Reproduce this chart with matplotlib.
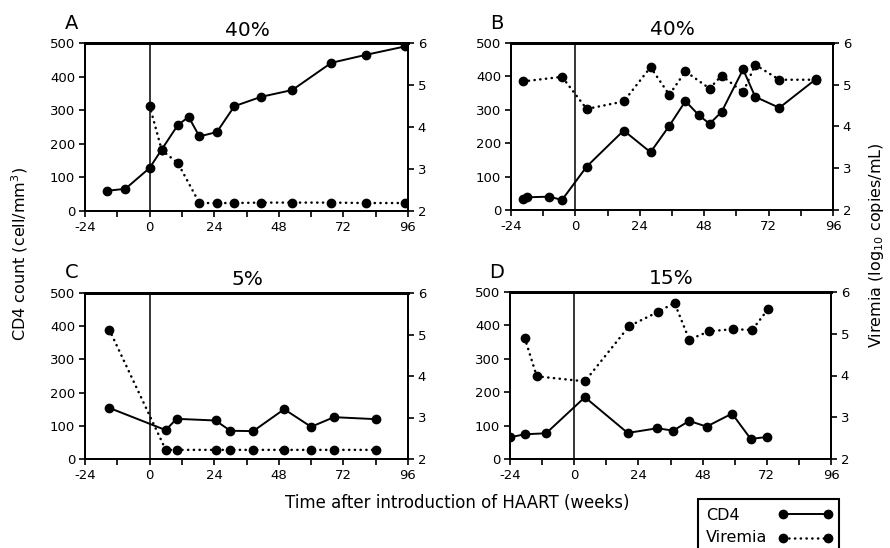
import matplotlib
matplotlib.use("Agg")
import matplotlib.pyplot as plt
from matplotlib.lines import Line2D
from matplotlib.patches import Rectangle

plt.rcParams['font.family'] = ['DejaVu Sans']

# panel A
a_cd4_wk = [-16, -9, 0, 4.5, 10.5, 14.5, 18.5, 25, 31.5, 41.5, 53, 67.5, 80.5, 95]
a_cd4 = [60, 66, 128, 183, 256, 280, 222, 235, 312, 340, 360, 441, 465, 490]
a_vir_wk = [0, 4.5, 10.5, 18.5, 25, 31.5, 41.5, 53, 67.5, 80.5, 95]
a_vir = [4.51, 3.45, 3.14, 2.19, 2.19, 2.19, 2.2, 2.2, 2.2, 2.19, 2.19]

# panel B
b_cd4_wk = [-19.5, -18, -9.7, -5, 4.2, 18, 28, 35, 41, 46, 50, 54.5, 62.5, 67, 76, 89.5]
b_cd4 = [32, 38, 40, 30, 130, 238, 173, 252, 326, 284, 258, 294, 421, 339, 306, 391]
b_vir_wk = [-19.5, -5, 4.2, 18, 28, 35, 41, 50, 54.5, 62.5, 67, 76, 89.5]
b_vir = [5.08, 5.19, 4.42, 4.6, 5.42, 4.76, 5.32, 4.91, 5.22, 4.82, 5.48, 5.12, 5.12]

# panel C
c_cd4_wk = [-15, 6, 10, 24.5, 30, 38.5, 50, 60, 68.5, 84]
c_cd4 = [154, 87, 121, 116, 85, 84, 150, 97, 126, 120]
c_vir_wk = [-15, 6, 10, 24.5, 30, 38.5, 50, 60, 68.5, 84]
c_vir = [5.12, 2.22, 2.22, 2.22, 2.22, 2.22, 2.22, 2.22, 2.22, 2.22]

# panel D
d_cd4_wk = [-24, -18.5, -10.5, 4, 20, 31, 37, 43, 49.5, 59, 66, 72]
d_cd4 = [65, 74, 77, 185, 78, 92, 85, 114, 97, 136, 60, 66]
d_vir_wk = [-18.5, -14, 4, 20.5, 31.5, 37.5, 43, 50.5, 59.5, 66.5, 72.5]
d_vir = [4.9, 3.98, 3.86, 5.18, 5.53, 5.74, 4.86, 5.06, 5.11, 5.09, 5.59]

panels = [
    ("A", "40%", a_cd4_wk, a_cd4, a_vir_wk, a_vir),
    ("B", "40%", b_cd4_wk, b_cd4, b_vir_wk, b_vir),
    ("C", "5%", c_cd4_wk, c_cd4, c_vir_wk, c_vir),
    ("D", "15%", d_cd4_wk, d_cd4, d_vir_wk, d_vir),
]

W, H = 890, 548

def fx(x):
    return x / W

def fy(y):
    return 1 - y / H

# pixel boxes (left, right, top, bottom), letter pos, title baseline
boxes = [(85, 408, 43, 211), (511, 833, 43, 210), (85, 408, 293, 459), (510, 831, 292, 459)]
letters = [(65, 29), (490, 29), (65, 278), (489, 278)]
titles = [(247, 36), (672, 35), (247, 285), (671, 284)]

dot_style = dict(color='k', lw=1.8, linestyle=(0, (0.1, 2.2)), dash_capstyle='round',
                 marker='o', ms=6)
solid_style = dict(color='k', lw=1.4, linestyle='-', marker='o', ms=6)

fig = plt.figure(figsize=(8.9, 5.48), dpi=100)

for (letter, title, cwk, cval, vwk, vval), (l, r, t, b), (lx, ly), (tx, ty) in zip(panels, boxes, letters, titles):
    ax = fig.add_axes([fx(l), fy(b), (r - l) / W, (b - t) / H])
    ax2 = ax.twinx()
    ax.plot(cwk, cval, zorder=3, **solid_style)
    ax2.plot(vwk, vval, zorder=3, **dot_style)
    ax.axvline(0, color='k', lw=1.1)
    ax.set_xlim(-24, 96)
    ax.set_ylim(0, 500)
    ax2.set_ylim(2, 6)
    ticks = list(range(-24, 97, 12))
    ax.set_xticks(ticks)
    ax.set_xticklabels([str(v) if v % 24 == 0 else '' for v in ticks])
    ax.set_yticks(range(0, 501, 100))
    ax2.set_yticks([2, 3, 4, 5, 6])
    for a in (ax, ax2):
        a.tick_params(direction='out', length=4, width=1.2, labelsize=9.5, pad=3)
        for s in a.spines.values():
            s.set_linewidth(1.3)
        a.spines['top'].set_linewidth(2.0)
    fig.text(fx(lx), fy(ly), letter, fontsize=14, ha='left', va='baseline')
    fig.text(fx(tx), fy(ty), title, fontsize=14.5, ha='center', va='baseline')

fig.text(fx(20), fy(254), "CD4 count (cell/mm$^3$)", rotation=90, ha='center', va='center', fontsize=11.5)
fig.text(fx(876), fy(245), "Viremia (log$_{10}$ copies/mL)", rotation=90, ha='center', va='center', fontsize=11.5)
fig.text(fx(457), fy(503), "Time after introduction of HAART (weeks)", ha='center', va='center', fontsize=12)

# legend box, bottom cut off by the figure edge
fig.patches.append(Rectangle((fx(698), fy(560)), (839 - 698) / W, (560 - 499) / H,
                             transform=fig.transFigure, fill=False, lw=1.5, ec='k', clip_on=False))
fig.text(fx(706), fy(520), "CD4", fontsize=11.5, ha='left', va='baseline')
fig.text(fx(706), fy(542), "Viremia", fontsize=11.5, ha='left', va='baseline')
fig.lines.append(Line2D([fx(783), fx(828)], [fy(514), fy(514)], transform=fig.transFigure,
                        markevery=[0, 1], **solid_style))
fig.lines.append(Line2D([fx(783), fx(828)], [fy(538), fy(538)], transform=fig.transFigure,
                        markevery=[0, 1], **dot_style))

fig.savefig("out.png", dpi=100)
